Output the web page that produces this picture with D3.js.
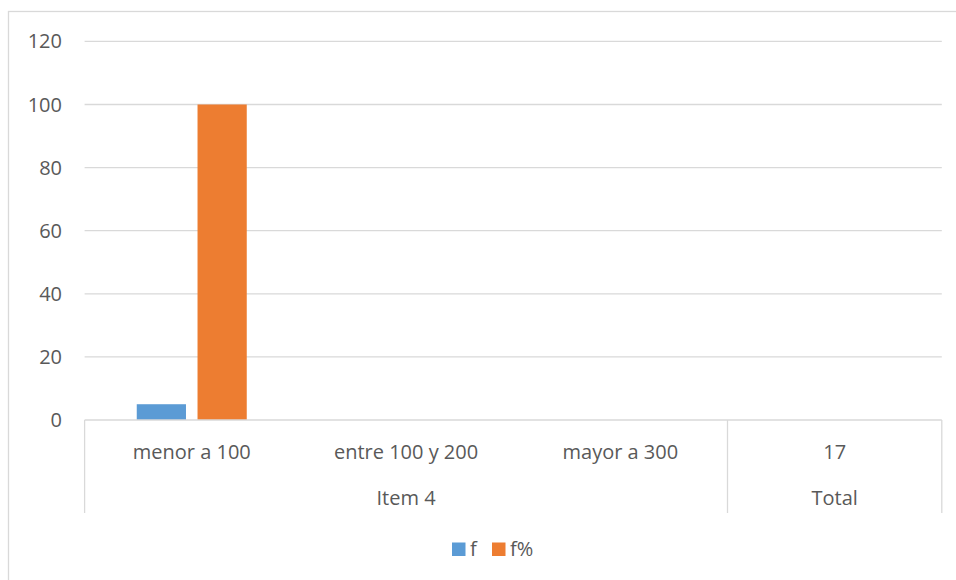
<!DOCTYPE html>
<html><head><meta charset="utf-8">
<script src="https://cdn.jsdelivr.net/npm/d3@7"></script>
<style>body{margin:0;background:#fff}svg{display:block}text{font-family:"Open Sans",sans-serif;fill:#595959}</style>
</head><body>
<svg id="c" width="956" height="580"></svg>
<script>
const categories = ["menor a 100", "entre 100 y 200", "mayor a 300", "17"];
const groups = ["Item 4", "Item 4", "Item 4", "Total"];
const seriesNames = ["f", "f%"];
const fValues = [5, 0, 0, 0];
const fPctValues = [100, 0, 0, 0];
const yTicks = [0, 20, 40, 60, 80, 100, 120];
const colors = ["#5b9bd5", "#ed7d31"];

const svg = d3.select("#c");
const plotLeft = 84.6, plotRight = 941.8, plotTop = 41.4, plotBottom = 420;
const fs = 20;

svg.append("rect").attr("x", 8.5).attr("y", 11.5).attr("width", 1000).attr("height", 700)
  .attr("fill", "none").attr("stroke", "#d9d9d9").attr("stroke-width", 1.3);

const y = d3.scaleLinear().domain([0, 120]).range([plotBottom, plotTop]);
const x0 = d3.scaleBand().domain(categories).range([plotLeft, plotRight]).padding(0);

// gridlines
svg.append("g").selectAll("line").data(yTicks.filter(d => d > 0)).join("line")
  .attr("x1", plotLeft).attr("x2", plotRight).attr("y1", d => y(d)).attr("y2", d => y(d))
  .attr("stroke", "#d9d9d9").attr("stroke-width", 1.3);

// y labels
svg.append("g").selectAll("text").data(yTicks).join("text")
  .attr("x", 62).attr("y", d => y(d)).attr("dy", "0.35em").attr("text-anchor", "end")
  .attr("font-size", fs).text(d => d);

// bars
const data = categories.map((c, i) => ({ cat: c, vals: [fValues[i], fPctValues[i]] }));
const gBar = svg.append("g");
data.forEach(d => {
  const cx = x0(d.cat) + x0.bandwidth() / 2;
  const x1 = d3.scaleBand().domain(seriesNames).range([cx - 55, cx + 55]).paddingInner(0.19);
  seriesNames.forEach((s, j) => {
    gBar.append("rect").attr("x", x1(s)).attr("width", x1.bandwidth())
      .attr("y", y(d.vals[j])).attr("height", plotBottom - y(d.vals[j])).attr("fill", colors[j]);
  });
});

// axis line
svg.append("line").attr("x1", plotLeft).attr("x2", plotRight).attr("y1", plotBottom).attr("y2", plotBottom)
  .attr("stroke", "#d9d9d9").attr("stroke-width", 1.3);

// category labels
svg.append("g").selectAll("text").data(categories).join("text")
  .attr("x", d => x0(d) + x0.bandwidth() / 2).attr("y", 459).attr("text-anchor", "middle")
  .attr("font-size", fs).text(d => d);

// group spans
const groupSpans = [];
groups.forEach((g, i) => {
  const last = groupSpans[groupSpans.length - 1];
  if (last && last.name === g) last.end = x0(categories[i]) + x0.bandwidth();
  else groupSpans.push({ name: g, start: x0(categories[i]), end: x0(categories[i]) + x0.bandwidth() });
});
svg.append("g").selectAll("text").data(groupSpans).join("text")
  .attr("x", d => (d.start + d.end) / 2).attr("y", 505).attr("text-anchor", "middle")
  .attr("font-size", fs).text(d => d.name);

const seps = [groupSpans[0].start].concat(groupSpans.map(d => d.end));
svg.append("g").selectAll("line").data(seps).join("line")
  .attr("x1", d => d).attr("x2", d => d).attr("y1", plotBottom).attr("y2", 513)
  .attr("stroke", "#d9d9d9").attr("stroke-width", 1.3);

// legend
const legend = svg.append("g");
const legX = [452, 492];
seriesNames.forEach((s, j) => {
  legend.append("rect").attr("x", legX[j]).attr("y", 542.5).attr("width", 13.5).attr("height", 13.5).attr("fill", colors[j]);
  legend.append("text").attr("x", legX[j] + 18).attr("y", 556).attr("font-size", fs).text(s);
});
</script>
</body></html>
